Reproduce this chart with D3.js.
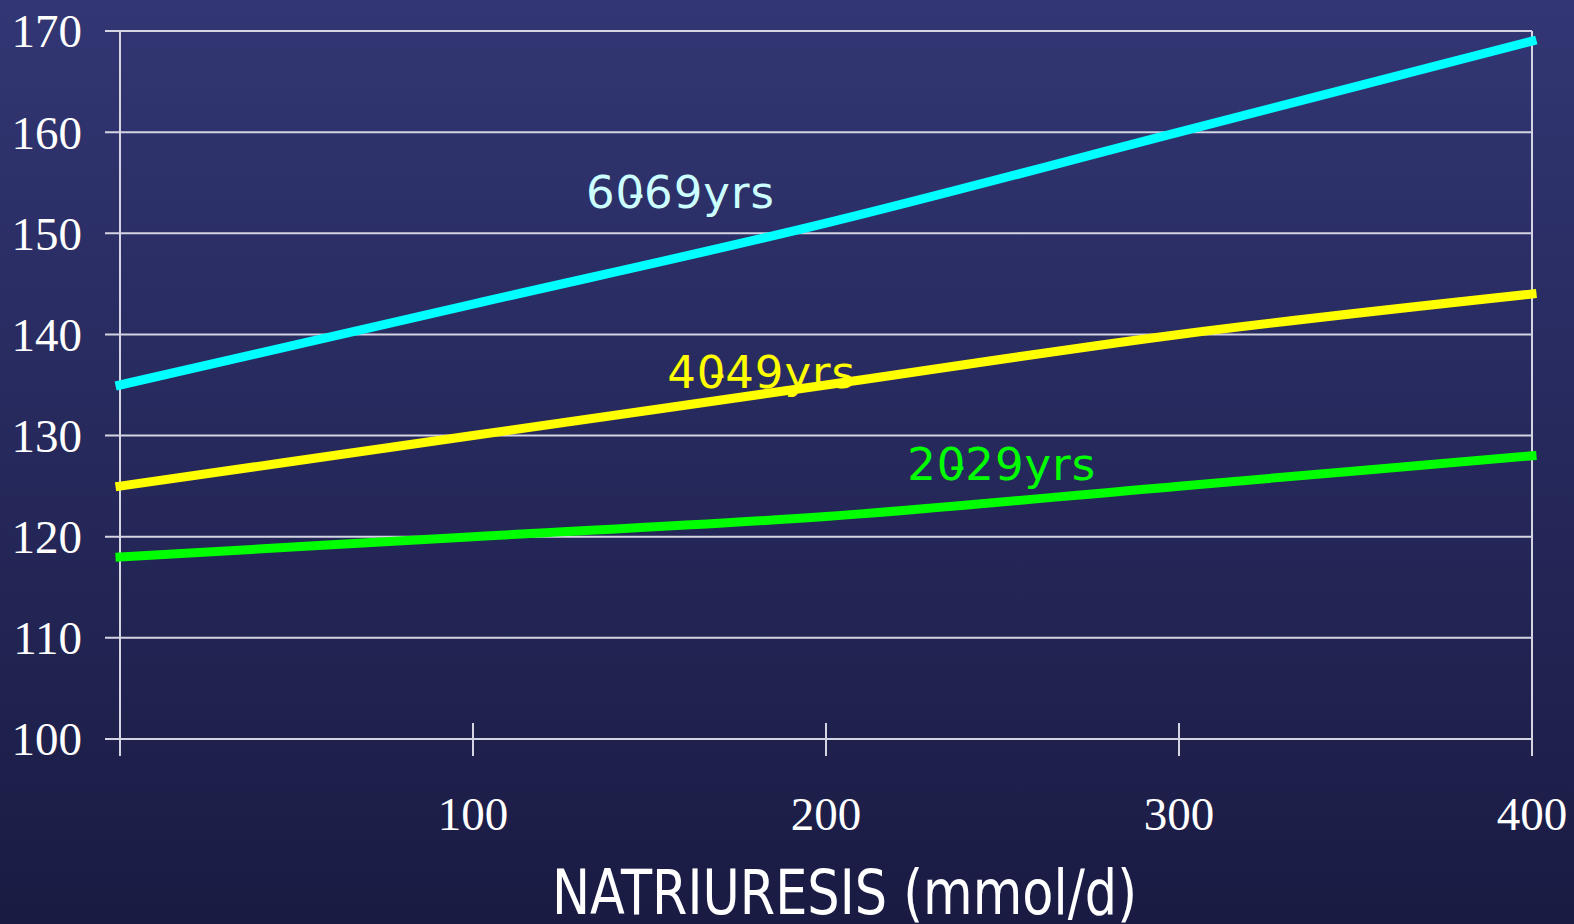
<!DOCTYPE html>
<html>
<head>
<meta charset="utf-8">
<script src="https://cdn.jsdelivr.net/npm/d3@7"></script>
<style>
  body { margin: 0; overflow: hidden; }
</style>
</head>
<body>
<div id="chart"></div>
<script>
// data
const natriuresis = [0, 100, 200, 300, 400];
const age6069 = [135, 143, 151, 160, 169];
const age4049 = [125, 130, 135, 140, 144];
const age2029 = [118, 120, 122, 125, 128];
const xTicks = [100, 200, 300, 400];
const yTicks = [100, 110, 120, 130, 140, 150, 160, 170];

const W = 1574, H = 924;
const margin = { top: 31, right: 42, bottom: 185, left: 120 };

const svg = d3.select("#chart").append("svg")
  .attr("width", W)
  .attr("height", H);

// background gradient
const grad = svg.append("defs").append("linearGradient")
  .attr("id", "bg").attr("x1", 0).attr("y1", 0).attr("x2", 0).attr("y2", 1);
grad.append("stop").attr("offset", "0%").attr("stop-color", "#323673");
grad.append("stop").attr("offset", "100%").attr("stop-color", "#1a1b43");
svg.append("rect").attr("width", W).attr("height", H).attr("fill", "url(#bg)");

const x = d3.scaleLinear().domain([0, 400]).range([margin.left, W - margin.right]);
const y = d3.scaleLinear().domain([100, 170]).range([H - margin.bottom, margin.top]);

const gridColor = "#d4d4e2";

// horizontal gridlines + left ticks
svg.append("g")
  .selectAll("line")
  .data(yTicks)
  .join("line")
  .attr("x1", x(0) - 15)
  .attr("x2", x(400))
  .attr("y1", d => y(d))
  .attr("y2", d => y(d))
  .attr("stroke", gridColor)
  .attr("stroke-width", 2);

// vertical axis line and right border
svg.append("g")
  .selectAll("line")
  .data([0, 400])
  .join("line")
  .attr("x1", d => x(d))
  .attr("x2", d => x(d))
  .attr("y1", y(170))
  .attr("y2", y(100) + 17)
  .attr("stroke", gridColor)
  .attr("stroke-width", 2);

// x ticks crossing the axis
svg.append("g")
  .selectAll("line")
  .data([100, 200, 300])
  .join("line")
  .attr("x1", d => x(d))
  .attr("x2", d => x(d))
  .attr("y1", y(100) - 16)
  .attr("y2", y(100) + 17)
  .attr("stroke", gridColor)
  .attr("stroke-width", 2);

// y tick labels
svg.append("g")
  .selectAll("text")
  .data(yTicks)
  .join("text")
  .attr("x", x(0) - 38)
  .attr("y", d => y(d))
  .attr("dy", "0.35em")
  .attr("text-anchor", "end")
  .attr("font-family", "'Liberation Serif', 'Times New Roman', serif")
  .attr("font-size", 47)
  .attr("fill", "#ffffff")
  .text(d => d);

// x tick labels
svg.append("g")
  .selectAll("text")
  .data(xTicks)
  .join("text")
  .attr("x", d => x(d))
  .attr("y", y(100) + 91)
  .attr("text-anchor", "middle")
  .attr("font-family", "'Liberation Serif', 'Times New Roman', serif")
  .attr("font-size", 47)
  .attr("fill", "#ffffff")
  .text(d => d);

// x axis title
svg.append("text")
  .attr("x", 552)
  .attr("y", 914)
  .attr("textLength", 585)
  .attr("lengthAdjust", "spacingAndGlyphs")
  .attr("font-family", "'DejaVu Sans', Verdana, sans-serif")
  .attr("font-size", 62)
  .attr("fill", "#ffffff")
  .text("NATRIURESIS (mmol/d)");

// the three series
const series = [
  { values: age2029, color: "#00ff00", label: "20", label2: "29yrs", labelColor: "#00ff00", lx: 223, ly: 125.6 },
  { values: age4049, color: "#ffff00", label: "40", label2: "49yrs", labelColor: "#ffff00", lx: 155, ly: 134.7 },
  { values: age6069, color: "#00ffff", label: "60", label2: "69yrs", labelColor: "#ccffff", lx: 132, ly: 152.5 }
];

const line = d3.line()
  .x((d, i) => x(natriuresis[i]))
  .y(d => y(d))
  .curve(d3.curveMonotoneX);

svg.append("g")
  .selectAll("path")
  .data(series)
  .join("path")
  .attr("d", d => line(d.values))
  .attr("fill", "none")
  .attr("stroke", d => d.color)
  .attr("stroke-width", 9)
  .attr("stroke-linecap", "square");

// series labels (hyphen drawn over the zero, as in the original)
const labels = svg.append("g")
  .selectAll("text")
  .data(series)
  .join("text")
  .attr("x", d => x(d.lx))
  .attr("y", d => y(d.ly))
  .attr("font-family", "'DejaVu Sans', Verdana, sans-serif")
  .attr("font-size", 45)
  .attr("letter-spacing", "1px")
  .attr("fill", d => d.labelColor);
labels.append("tspan").text(d => d.label);
labels.append("tspan").attr("dx", "-0.38em").text("-");
labels.append("tspan").attr("dx", "-0.03em").text(d => d.label2);
</script>
</body>
</html>
